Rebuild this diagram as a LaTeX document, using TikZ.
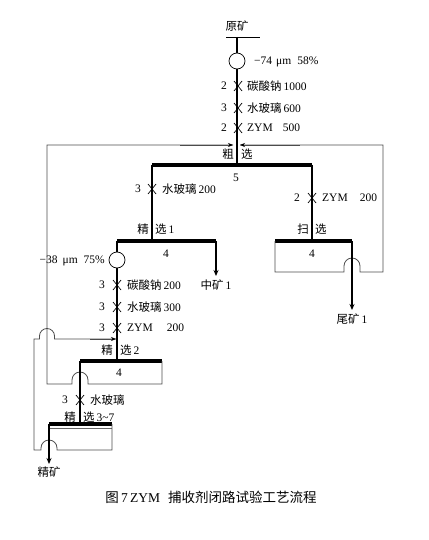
\documentclass[tikz,border=0pt]{standalone}
\usepackage{fontspec}
\setmainfont{Liberation Serif}
\newfontfamily\cjk{Noto Sans CJK SC}
\newcommand\zh[1]{{\cjk #1}}
\usetikzlibrary{arrows.meta}
\begin{document}
\begin{tikzpicture}[x=1pt,y=-1pt,
  mainl/.style={line width=1.6pt,black},
  subl/.style={line width=1.1pt,black},
  bar/.style={line width=3.6pt,black},
  thinl/.style={line width=0.8pt,black!70},
  outarr/.style={line width=1.6pt,-{Stealth[length=6pt,width=5pt]}},
  fbarr/.style={thinl,-{Stealth[length=5pt,width=4pt,black]}},
  lbl/.style={font=\fontsize{11.5}{13}\selectfont,inner sep=0pt},
  circ/.style={circle,draw,line width=0.7pt,fill=white,minimum size=16pt,inner sep=0pt},
  xcross/.pic={\draw[line width=0.7pt] (-4,-5)--(4,5) (-4,5)--(4,-5);}
]
\useasboundingbox (0,0) rectangle (428,540);
% ---------- feed ----------
\node[lbl] (yk) at (237,26) {\zh{原矿}};
\coordinate (ykL) at (226,37);
\coordinate (ykR) at (260,37);
\coordinate (feed) at (237,37);
\draw[line width=0.8pt] (ykL) -- (ykR);
% rougher
\coordinate (cxL) at (152,165);
\coordinate (cxM) at (237,165);
\coordinate (cxR) at (312,165);
\draw[mainl] (feed) -- (cxM);
\node[circ] (c1) at (237,61) {};
\node[lbl,anchor=west] (g1) at (254,62) {−74\hspace{4pt}μm\hspace{6pt}58\%};
\pic at (238,86) {xcross};
\pic at (238,108) {xcross};
\pic at (238,128) {xcross};
\node[lbl] (n1) at (224,86) {2};
\node[lbl] (n2) at (224,108) {3};
\node[lbl] (n3) at (224,128) {2};
\node[lbl,anchor=west] (r1) at (247,86) {\zh{碳酸钠}\,1000};
\node[lbl,anchor=west] (r2) at (247,108) {\zh{水玻璃}\,600};
\node[lbl,anchor=west] (r3) at (247,128) {ZYM\hspace{10pt}500};
\node[lbl,anchor=east] (cx1) at (234,154) {\zh{粗}};
\node[lbl,anchor=west] (cx2) at (241,154) {\zh{选}};
\draw[bar] (cxL) -- (cxR);
\node[lbl] (cx5) at (236,178) {5};
% ---------- branches ----------
\coordinate (j1L) at (117,241);
\coordinate (j1M) at (152,241);
\coordinate (j1R) at (216,241);
\coordinate (sxL) at (275,241);
\coordinate (sxM) at (312,241);
\coordinate (sxR) at (352,241);
\draw[mainl] (cxL) -- (j1M);
\draw[mainl] (cxR) -- (sxM);
\pic at (152,189) {xcross};
\node[lbl] (n4) at (138,189) {3};
\node[lbl,anchor=west] (r4) at (162,189) {\zh{水玻璃}\,200};
\pic at (312,198) {xcross};
\node[lbl] (n5) at (297,198) {2};
\node[lbl,anchor=west] (r5) at (322,198) {ZYM\hspace{12pt}200};
% cleaner 1
\node[lbl,anchor=east] (j1a) at (149,229) {\zh{精}};
\node[lbl,anchor=west] (j1b) at (155,229) {\zh{选}\,1};
\draw[bar] (j1L) -- (j1R);
\node[lbl] (j14) at (166,254) {4};
\coordinate (zkEnd) at (216,276);
\draw[outarr] (j1R) -- (zkEnd);
\node[lbl] (zk) at (216,285) {\zh{中矿}\,1};
% scavenger
\node[lbl,anchor=east] (sx1) at (309,229) {\zh{扫}};
\node[lbl,anchor=west] (sx2) at (315,229) {\zh{选}};
\draw[bar] (sxL) -- (sxR);
\node[lbl] (sx4) at (312,254) {4};
\coordinate (wkEnd) at (352,310);
\coordinate (fbR) at (240,145);
\draw[thinl] (sxL) -- (275,272) -- (344,272) -- ++(0,-6) arc[start angle=180,end angle=360,radius=8] -- ++(0,6) -- (383,272) -- (383,145) -- (fbR);
\draw[fbarr] (300,145) -- (fbR);
\draw[outarr] (sxR) -- (wkEnd);
\node[lbl] (wk) at (352,319) {\zh{尾矿}\,1};
% ---------- cleaner 2 ----------
\coordinate (j2L) at (80,361);
\coordinate (j2M) at (117,361);
\coordinate (j2R) at (162,361);
\draw[subl] (j1L) -- (j2M);
\node[circ] (c2) at (117,260) {};
\node[lbl,anchor=east] (g2) at (105,261) {−38\hspace{5pt}μm\hspace{6pt}75\%};
\pic at (117,285) {xcross};
\pic at (117,307) {xcross};
\pic at (117,328) {xcross};
\node[lbl] (n6) at (102,285) {3};
\node[lbl] (n7) at (102,307) {3};
\node[lbl] (n8) at (102,328) {3};
\node[lbl,anchor=west] (r6) at (127,285) {\zh{碳酸钠}\,200};
\node[lbl,anchor=west] (r7) at (127,307) {\zh{水玻璃}\,300};
\node[lbl,anchor=west] (r8) at (127,328) {ZYM\hspace{14pt}200};
\node[lbl,anchor=east] (j2a) at (113,350) {\zh{精}};
\node[lbl,anchor=west] (j2b) at (120,350) {\zh{选}\,2};
\draw[bar] (j2L) -- (j2R);
\node[lbl] (j24) at (119,373) {4};
\coordinate (fbL) at (233,145);
\draw[thinl] (j2R) -- (162,384) -- (88,384) -- ++(0,-4) arc[start angle=360,end angle=180,radius=8] -- ++(0,4) -- (47,384) -- (47,145) -- (fbL);
\draw[fbarr] (180,145) -- (fbL);
% ---------- cleaner 3-7 ----------
\coordinate (j3L) at (49,424);
\coordinate (j3M) at (80,424);
\coordinate (j3R) at (112,424);
\draw[mainl] (j2L) -- (j3M);
\pic at (80,400) {xcross};
\node[lbl] (n9) at (65,400) {3};
\node[lbl,anchor=west] (r9) at (90,400) {\zh{水玻璃}};
\node[lbl,anchor=east] (j3a) at (76,417) {\zh{精}};
\node[lbl,anchor=west] (j3b) at (83,417) {\zh{选}\,3\char"7E 7};
\draw[bar] (j3L) -- (j3R);
\draw[line width=0.5pt,black!60] (49,428) -- (112,428);
\coordinate (j2in) at (116,339);
\draw[thinl] (j3R) -- (112,450) -- (57,450) -- ++(0,-2) arc[start angle=360,end angle=180,radius=8] -- ++(0,2) -- (34,450) -- (34,339) -- (39.5,339) -- ++(0,-3) arc[start angle=180,end angle=360,radius=7.5] -- ++(0,3) -- (j2in);
\draw[fbarr] (90,339) -- (j2in);
\coordinate (jkEnd) at (49,464);
\draw[outarr] (j3L) -- (jkEnd);
\node[lbl] (jk) at (49,472) {\zh{精矿}};
% ---------- caption ----------
\node[inner sep=0pt,font=\fontsize{13.5}{15}\selectfont] (cap) at (211,497) {\zh{图}\,7\,ZYM\hspace{8pt}\zh{捕收剂闭路试验工艺流程}};
\end{tikzpicture}
\end{document}
